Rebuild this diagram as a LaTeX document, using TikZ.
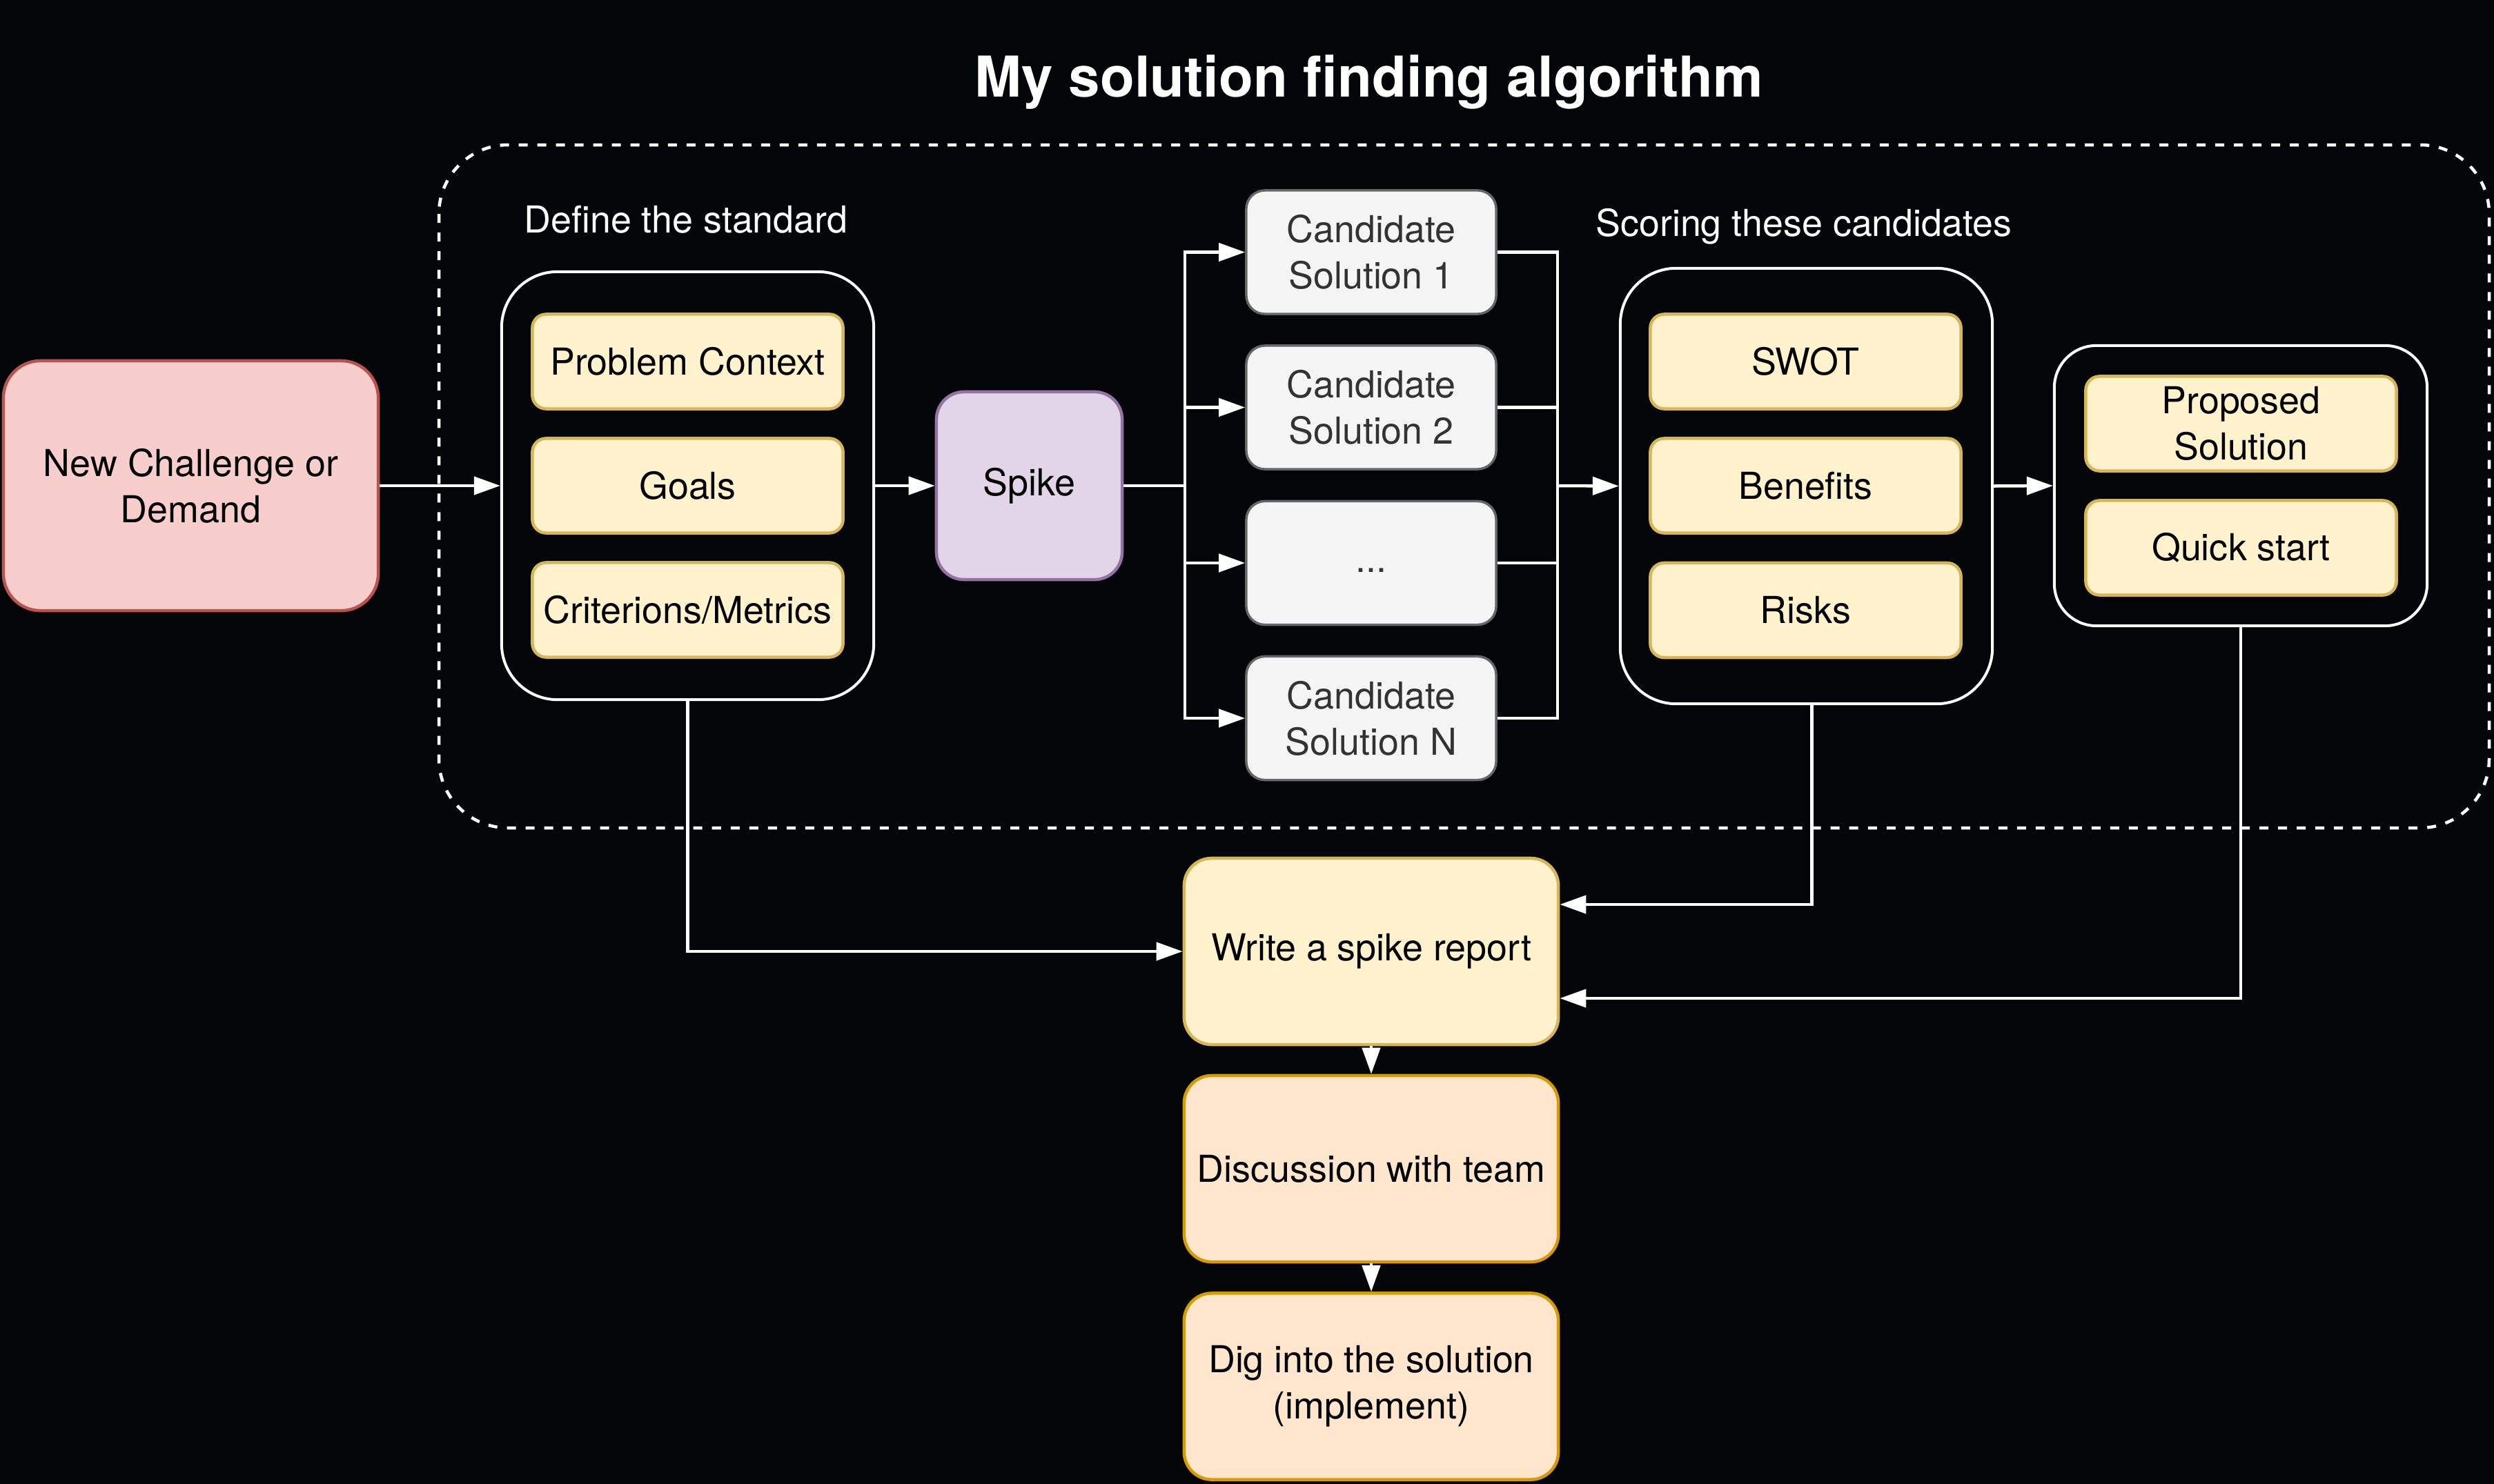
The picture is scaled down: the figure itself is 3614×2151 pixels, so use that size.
\documentclass[tikz,border=0pt]{standalone}
\usepackage{fontspec}
\setmainfont{TeX Gyre Heros}
\usetikzlibrary{arrows.meta}
\definecolor{bgc}{RGB}{4,5,9}
\definecolor{pinkf}{HTML}{F8CECC}\definecolor{pinks}{HTML}{B85450}
\definecolor{yelf}{HTML}{FFF2CC}\definecolor{yels}{HTML}{D6B656}
\definecolor{purf}{HTML}{E1D5E7}\definecolor{purs}{HTML}{9673A6}
\definecolor{gryf}{HTML}{F5F5F5}\definecolor{grys}{HTML}{666666}\definecolor{gryt}{HTML}{333333}
\definecolor{orgf}{HTML}{FFE6CC}\definecolor{orgs}{HTML}{D79B00}
\newcommand\myfs{\fontsize{15.3}{19.1}\selectfont}
\tikzset{
  base/.style={rectangle, align=center, inner sep=2pt, font=\myfs, line width=0.045cm},
  ybox/.style={base, fill=yelf, draw=yels, text=black, rounded corners=0.2cm, minimum width=4.5cm, minimum height=1.37cm},
  obox/.style={base, fill=orgf, draw=orgs, text=black, rounded corners=0.4cm, minimum width=5.42cm, minimum height=2.70cm},
  cbox/.style={base, fill=gryf, draw=grys, text=gryt, line width=0.035cm, rounded corners=0.27cm, minimum width=3.62cm, minimum height=1.79cm},
  cont/.style={rectangle, draw=white, fill=bgc, line width=0.04cm, rounded corners=0.81cm},
  lbl/.style={text=white, font=\myfs, anchor=base, inner sep=0pt},
  line/.style={draw=white, line width=0.045cm},
  arr/.style={line, -{Triangle[length=0.38cm,width=0.26cm]}},
}
\begin{document}
\begin{tikzpicture}[x=0.01cm,y=-0.01cm]
\fill[bgc] (0,0) rectangle (3614,2151);
\useasboundingbox (0,0) rectangle (3614,2151);

\node[text=white, font=\fontsize{23.2}{28}\selectfont\bfseries, anchor=base, inner sep=0pt] (title) at (1984,140) {My solution finding algorithm};

\draw[white, line width=0.045cm, dash pattern=on 0.13cm off 0.14cm, rounded corners=1cm] (636,210) rectangle (3607,1200);

\node[lbl] (deflbl) at (994,337) {Define the standard};
\node[lbl] (scolbl) at (2614,342) {Scoring these candidates};

\node[base, fill=pinkf, draw=pinks, text=black, rounded corners=0.54cm, minimum width=5.43cm, minimum height=3.62cm] (chal) at (276.5,704) {New Challenge or\\Demand};

\node[cont, minimum width=5.39cm, minimum height=6.20cm] (define) at (996.5,704) {};
\node[ybox] (pc) at (996.5,524) {Problem Context};
\node[ybox] (goals) at (996.5,704) {Goals};
\node[ybox] (crit) at (996.5,884) {Criterions/Metrics};

\node[base, fill=purf, draw=purs, text=black, rounded corners=0.4cm, minimum width=2.69cm, minimum height=2.72cm] (spike) at (1491.5,704) {Spike};

\node[cbox] (c1) at (1987,365.5) {Candidate\\Solution 1};
\node[cbox] (c2) at (1987,590.5) {Candidate\\Solution 2};
\node[cbox] (c3) at (1987,816) {\strut...};
\node[cbox] (cn) at (1987,1041) {Candidate\\Solution N};

\node[cont, minimum width=5.39cm, minimum height=6.31cm] (score) at (2617.5,704.5) {};
\node[ybox] (swot) at (2616.5,524) {SWOT};
\node[ybox] (ben) at (2616.5,704) {Benefits};
\node[ybox] (risk) at (2616.5,884.5) {Risks};

\node[cont, rounded corners=0.61cm, minimum width=5.40cm, minimum height=4.06cm] (prop) at (3247,704) {};
\node[ybox] (ps) at (3247.5,614) {Proposed\\Solution};
\node[ybox] (qs) at (3247.5,794) {Quick start};

\node[obox, fill=yelf, draw=yels] (write) at (1987,1379) {Write a spike report};
\node[obox] (disc) at (1987,1694) {Discussion with team};
\node[obox] (dig) at (1987,2009.5) {Dig into the solution\\(implement)};

\coordinate (busL) at (1717,704);
\coordinate (busR) at (2257,704);

\draw[arr] (chal.east) -- (define.west);
\draw[arr] (define.east) -- (spike.west);
\draw[line] (spike.east) -- (busL);
\draw[arr] (busL) |- (c1.west);
\draw[arr] (busL) |- (c2.west);
\draw[arr] (busL) |- (c3.west);
\draw[arr] (busL) |- (cn.west);
\draw[line] (c1.east) -| (busR);
\draw[line] (c2.east) -| (busR);
\draw[line] (c3.east) -| (busR);
\draw[line] (cn.east) -| (busR);
\draw[arr] (busR) -- (score.west);
\draw[arr] (score.east) -- (prop.west);
\draw[arr] (define.south) |- (write.west);
\draw[arr] ([xshift=0.08cm]score.south) |- (write.east |- 0,1311);
\draw[arr] (prop.south) |- (write.east |- 0,1447);
\draw[arr] (write.south) -- (disc.north);
\draw[arr] (disc.south) -- (dig.north);
\end{tikzpicture}
\end{document}
